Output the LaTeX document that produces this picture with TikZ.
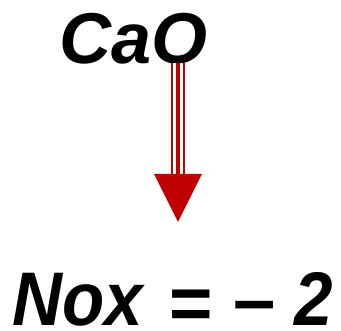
\documentclass[tikz,border=0pt]{standalone}
\usepackage{fontspec}
\setmainfont{Liberation Sans}
\definecolor{arrred}{HTML}{C00000}
\tikzset{
  lbl/.style={inner sep=0pt, anchor=base west, text depth=0pt, font=\bfseries\itshape\fontsize{72}{80}\selectfont},
  big/.style={inner sep=0pt, anchor=base west, text depth=0pt, font=\bfseries\itshape\fontsize{76}{84}\selectfont},
  bigup/.style={big, font=\bfseries\upshape\fontsize{76}{84}\selectfont},
}
\newcommand{\nar}[1]{\scalebox{0.91}[1]{#1}}
\begin{document}
\begin{tikzpicture}[x=1pt,y=1pt]
\useasboundingbox (0,0) rectangle (341,331);
\node[lbl] (cao) at (59,267) {CaO};
\node[big] (nox) at (12,5) {\nar{Nox}};
\node[bigup] (eq) at (169,1) {\scalebox{0.98}[1]{=}};
\node[bigup] (minus) at (233,5) {–};
\node[big] (two) at (294,5) {\nar{2}};
\coordinate (top) at (178,268);
\coordinate (mid) at (178,155);
\coordinate (tip) at (178,109);
\fill[arrred] ([xshift=-7]top) rectangle ([xshift=7]mid);
\draw[white, line width=3] ([xshift=-3.5]top) -- ([xshift=-3.5]mid);
\draw[white, line width=3] ([xshift=3.5]top) -- ([xshift=3.5]mid);
\fill[arrred] ([xshift=-24,yshift=2]mid) -- ([xshift=24,yshift=2]mid) -- (tip) -- cycle;
\end{tikzpicture}
\end{document}
